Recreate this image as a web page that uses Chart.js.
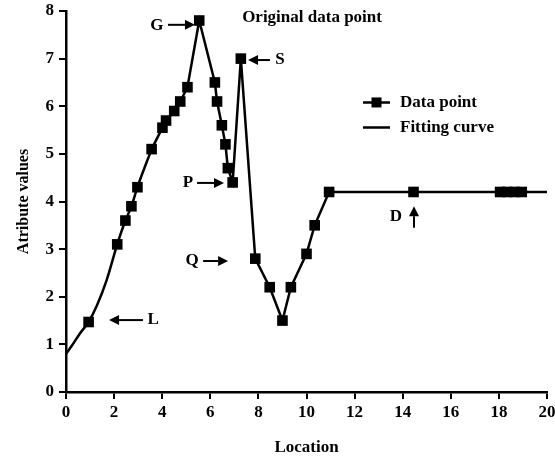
<!DOCTYPE html>
<html>
<head>
<meta charset="utf-8">
<script src="https://cdn.jsdelivr.net/npm/chart.js@4.4.0/dist/chart.umd.min.js"></script>
<style>
  html, body { margin: 0; padding: 0; background: #fff; }
  #wrap { width: 555px; height: 460px; }
</style>
</head>
<body>
<div id="wrap"><canvas id="chart" width="555" height="460"></canvas></div>
<script>
// Original data points
const pointX = [0.94, 2.13, 2.47, 2.72, 2.97, 3.56, 4.01, 4.16, 4.5, 4.75, 5.05, 5.54,
  6.19, 6.28, 6.48, 6.63, 6.73, 6.93, 7.27, 7.87, 8.47, 9.0, 9.35, 10.0, 10.34, 10.94,
  14.45, 18.05, 18.35, 18.65, 18.95];
const pointY = [1.47, 3.1, 3.6, 3.9, 4.3, 5.1, 5.55, 5.7, 5.9, 6.1, 6.4, 7.8,
  6.5, 6.1, 5.6, 5.2, 4.7, 4.4, 7.0, 2.8, 2.2, 1.5, 2.2, 2.9, 3.5, 4.2,
  4.2, 4.2, 4.2, 4.2, 4.2];

// Fitting curve: smooth start read along the line, then straight through the data, ending at x = 20
const curveStartX = [0, 0.24, 0.58, 1.28, 1.69];
const curveStartY = [0.8, 0.97, 1.23, 1.81, 2.35];
const curveEndX = [20];
const curveEndY = [4.2];
const smoothUntil = 3.56;

const xTicks = [0, 2, 4, 6, 8, 10, 12, 14, 16, 18, 20];
const yTicks = [0, 1, 2, 3, 4, 5, 6, 7, 8];

// Labelled markers on the figure: label, arrow tail, arrow head, text position (data units)
const markerLabels = ['G', 'S', 'P', 'Q', 'L', 'D'];
const arrowFrom = [[4.24, 7.71], [8.48, 6.97], [5.45, 4.39], [5.7, 2.75], [3.2, 1.51], [14.47, 3.45]];
const arrowTo = [[5.36, 7.71], [7.57, 6.97], [6.57, 4.39], [6.74, 2.75], [1.79, 1.51], [14.47, 3.9]];
const labelAt = [[3.78, 7.69], [8.9, 6.97], [5.07, 4.39], [5.24, 2.75], [3.62, 1.51], [13.72, 3.68]];
const titleText = 'Original data point';
const titleAt = [10.23, 7.86];

const FONT = 'Liberation Serif, Times New Roman, serif';

const dataPoints = pointX.map((x, i) => ({ x, y: pointY[i] }));
const smoothStart = [
  ...curveStartX.map((x, i) => ({ x, y: curveStartY[i] })),
  ...dataPoints.filter(p => p.x <= smoothUntil)
].sort((a, b) => a.x - b.x);
const straightPart = [
  ...dataPoints.filter(p => p.x >= smoothUntil),
  ...curveEndX.map((x, i) => ({ x, y: curveEndY[i] }))
];

function drawArrow(ctx, x1, y1, x2, y2) {
  const ang = Math.atan2(y2 - y1, x2 - x1);
  const head = 10, half = 5;
  const bx = x2 - head * Math.cos(ang), by = y2 - head * Math.sin(ang);
  ctx.beginPath();
  ctx.moveTo(x1, y1);
  ctx.lineTo(bx, by);
  ctx.stroke();
  ctx.beginPath();
  ctx.moveTo(x2, y2);
  ctx.lineTo(bx - half * Math.sin(ang), by + half * Math.cos(ang));
  ctx.lineTo(bx + half * Math.sin(ang), by - half * Math.cos(ang));
  ctx.closePath();
  ctx.fill();
}

// Draws the arrows, letters, title and the legend inside the plot
const annotations = {
  id: 'annotations',
  afterDatasetsDraw(chart) {
    const { ctx, scales: { x, y }, chartArea } = chart;
    ctx.save();
    ctx.fillStyle = '#000';
    ctx.strokeStyle = '#000';
    ctx.lineWidth = 2;
    ctx.font = 'bold 17px ' + FONT;
    ctx.textBaseline = 'middle';
    ctx.textAlign = 'center';
    markerLabels.forEach((lab, i) => {
      drawArrow(ctx,
        x.getPixelForValue(arrowFrom[i][0]), y.getPixelForValue(arrowFrom[i][1]),
        x.getPixelForValue(arrowTo[i][0]), y.getPixelForValue(arrowTo[i][1]));
      ctx.fillText(lab, x.getPixelForValue(labelAt[i][0]), y.getPixelForValue(labelAt[i][1]));
    });
    ctx.fillText(titleText, x.getPixelForValue(titleAt[0]), y.getPixelForValue(titleAt[1]));

    // legend
    const lx = chartArea.left + 297, ly = y.getPixelForValue(6.08);
    ctx.lineWidth = 2.5;
    ctx.beginPath();
    ctx.moveTo(lx, ly); ctx.lineTo(lx + 27, ly);
    ctx.moveTo(lx, ly + 25); ctx.lineTo(lx + 27, ly + 25);
    ctx.stroke();
    ctx.fillRect(lx + 8.5, ly - 5, 10, 10);
    ctx.textAlign = 'left';
    ctx.fillText('Data point', lx + 37, ly);
    ctx.fillText('Fitting curve', lx + 37, ly + 25);
    ctx.restore();
  }
};

new Chart(document.getElementById('chart'), {
  type: 'scatter',
  data: {
    datasets: [
      {
        label: 'Fitting curve (start)',
        data: smoothStart,
        showLine: true,
        borderColor: '#000',
        borderWidth: 2.5,
        pointRadius: 0,
        cubicInterpolationMode: 'monotone',
        order: 3
      },
      {
        label: 'Fitting curve',
        data: straightPart,
        showLine: true,
        borderColor: '#000',
        borderWidth: 2.5,
        pointRadius: 0,
        tension: 0,
        order: 2
      },
      {
        label: 'Data point',
        data: dataPoints,
        showLine: false,
        pointStyle: 'rect',
        pointRadius: 7.5,
        backgroundColor: '#000',
        borderColor: '#000',
        borderWidth: 0,
        order: 1
      }
    ]
  },
  options: {
    responsive: false,
    animation: false,
    layout: { padding: { top: 11, right: 8, left: 0, bottom: 0 } },
    plugins: { legend: { display: false }, tooltip: { enabled: false } },
    scales: {
      x: {
        type: 'linear',
        min: 0, max: 20,
        afterBuildTicks: s => { s.ticks = xTicks.map(v => ({ value: v })); },
        afterFit: s => { s.height = 68; s.paddingLeft = 0; s.paddingRight = 0; },
        border: { color: '#000', width: 2.5 },
        grid: { drawOnChartArea: false, drawTicks: true, tickLength: 7, color: '#000', lineWidth: 2 },
        ticks: { color: '#000', font: { family: FONT, size: 17, weight: 'bold' }, padding: 3, maxRotation: 0 },
        title: { display: true, text: 'Location', color: '#000', font: { family: FONT, size: 17, weight: 'bold' }, padding: { top: 10, bottom: 2 } }
      },
      y: {
        type: 'linear',
        min: 0, max: 8,
        afterBuildTicks: s => { s.ticks = yTicks.map(v => ({ value: v })); },
        afterFit: s => { s.width = 66; s.paddingTop = 0; s.paddingBottom = 0; },
        border: { color: '#000', width: 2.5 },
        grid: { drawOnChartArea: false, drawTicks: true, tickLength: 7, color: '#000', lineWidth: 2 },
        ticks: { color: '#000', font: { family: FONT, size: 17, weight: 'bold' }, padding: 5 },
        title: { display: true, text: 'Atribute values', color: '#000', font: { family: FONT, size: 16, weight: 'bold' }, padding: { top: 14, bottom: 8 } }
      }
    }
  },
  plugins: [annotations]
});
</script>
</body>
</html>
